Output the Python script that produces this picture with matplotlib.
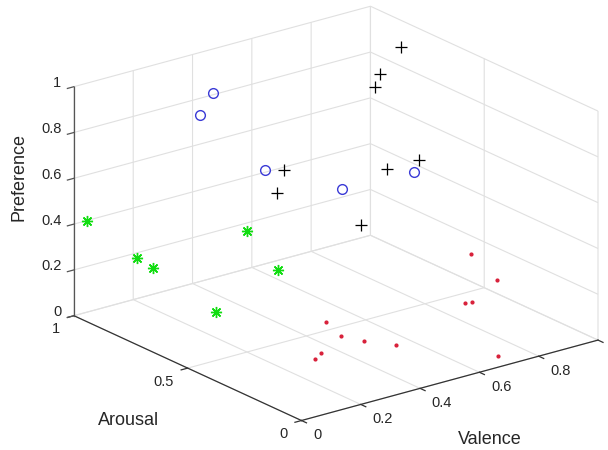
import numpy as np
import matplotlib
matplotlib.use("Agg")
import matplotlib.pyplot as plt
from mpl_toolkits.mplot3d import proj3d

# points (valence, arousal, preference)
red_val = [0.504, 0.475, 0.497, 0.547, 0.352, 0.315, 0.988, 0.957, 0.888, 0.908, 0.713]
red_aro = [0.549, 0.445, 0.375, 0.297, 0.373, 0.350, 0.543, 0.389, 0.439, 0.434, 0.066]
red_pref = [0, 0, 0, 0, 0, 0, 0.13, 0.10, 0, 0, 0]

plus_val = [0.981, 0.866, 0.849, 0.812, 0.921, 0.712, 0.484, 0.466]
plus_aro = [0.840, 0.784, 0.785, 0.684, 0.684, 0.666, 0.707, 0.716]
plus_pref = [0.90, 0.85, 0.80, 0.50, 0.50, 0.30, 0.60, 0.50]

circ_val = [0.371, 0.350, 0.443, 0.624, 0.752]
circ_aro = [0.872, 0.902, 0.737, 0.636, 0.485]
circ_pref = [0.90, 0.80, 0.60, 0.50, 0.60]

star_val = [0.041, 0.133, 0.175, 0.334, 0.328, 0.215]
star_aro = [0.996, 0.898, 0.880, 0.674, 0.532, 0.656]
star_pref = [0.40, 0.25, 0.20, 0.40, 0.30, 0.10]

x_ticks = [0, 0.2, 0.4, 0.6, 0.8, 1.0]
x_labels = ['0', '0.2', '0.4', '0.6', '0.8', '']
y_ticks = [0, 0.5, 1]
y_labels = ['0', '0.5', '1']
z_ticks = [0, 0.2, 0.4, 0.6, 0.8, 1]
z_labels = ['0', '0.2', '0.4', '0.6', '0.8', '1']

W, H = 608, 450
plt.rcParams['font.family'] = ['Liberation Sans', 'DejaVu Sans']
plt.rcParams['grid.color'] = '#e0e0e0'
plt.rcParams['grid.linewidth'] = 0.8

fig = plt.figure(figsize=(W / 100, H / 100), dpi=100)
ax = fig.add_axes([0, 0, 1, 1], projection='3d', proj_type='ortho')
ax.view_init(elev=20.7, azim=-127.5)
ax.set_box_aspect((1, 1, 0.655))
ax.set_xlim(0, 1)
ax.set_ylim(0, 1)
ax.set_zlim(0, 1)
ax.set_xticks(x_ticks)
ax.set_yticks(y_ticks)
ax.set_zticks(z_ticks)
ax.set_xticklabels([])
ax.set_yticklabels([])
ax.set_zticklabels([])
for a in (ax.xaxis, ax.yaxis, ax.zaxis):
    a.set_pane_color((1, 1, 1, 0))
    a.pane.set_edgecolor((1, 1, 1, 0))
    a.line.set_color((1, 1, 1, 0))
    a._axinfo['axisline']['color'] = (1, 1, 1, 0)
    a._axinfo['tick']['inward_factor'] = 0
    a._axinfo['tick']['outward_factor'] = 0

ax.plot(red_val, red_aro, red_pref, ls='none', marker='.', color='#d8203a', ms=4)
ax.plot(star_val, star_aro, star_pref, ls='none', marker=(8, 2, 0), color='#11dd11', ms=8, mew=1)
ax.plot(plus_val, plus_aro, plus_pref, ls='none', marker='+', color='k', ms=9, mew=0.9)
ax.plot(circ_val, circ_aro, circ_pref, ls='none', marker='o', mfc='none', mec='#3a3ad6', ms=7, mew=1)

# axis lines and outward ticks
ax.plot([0, 1], [0, 0], [0, 0], color='#333333', lw=0.9)
ax.plot([0, 0], [0, 1], [0, 0], color='#333333', lw=0.9)
ax.plot([0, 0], [1, 1], [0, 1], color='#555555', lw=0.9)
tl = 0.022
for t in x_ticks:
    ax.plot([t, t], [0, -tl], [0, 0], color='#333333', lw=0.9)
for t in y_ticks:
    ax.plot([0, -tl], [t, t], [0, 0], color='#333333', lw=0.9)
for t in z_ticks:
    ax.plot([0, -tl], [1, 1], [t, t], color='#555555', lw=0.9)


def to_px(x, y, z):
    xs, ys, _ = proj3d.proj_transform(np.atleast_1d(float(x)), np.atleast_1d(float(y)),
                                      np.atleast_1d(float(z)), ax.get_proj())
    return ax.transData.transform(np.column_stack([xs, ys]))[0]


# fit the box to the reference frame
corner_pts = [(0, 1, 0), (1, 0, 0), (0, 0, 0), (0, 1, 1)]
corner_tgt = np.array([(74, H - 314.3), (597.3, H - 341.7), (302, H - 421), (74, H - 86)])
S, cx, cy = 450.0, W / 2, H / 2
for _ in range(3):
    ax.set_position([(cx - S / 2) / W, (cy - S / 2) / H, S / W, S / H])
    fig.canvas.draw()
    cur = np.array([to_px(*p) for p in corner_pts])
    cc = cur - cur.mean(0)
    tc = corner_tgt - corner_tgt.mean(0)
    s = (cc * tc).sum() / (cc * cc).sum()
    newc = corner_tgt.mean(0) - s * (cur.mean(0) - np.array([cx, cy]))
    S, cx, cy = S * s, newc[0], newc[1]
ax.set_position([(cx - S / 2) / W, (cy - S / 2) / H, S / W, S / H])
fig.canvas.draw()

tc_col = '#262626'
for t, lab in zip(x_ticks, x_labels):
    p = to_px(t, 0, 0)
    fig.text((p[0] + 11.5) / W, (p[1] - 14.5) / H, lab, ha='left', va='center',
             fontsize=10.5, color=tc_col)
for t, lab in zip(y_ticks, y_labels):
    p = to_px(0, t, 0)
    fig.text((p[0] - 13.5) / W, (p[1] - 13.5) / H, lab, ha='right', va='center',
             fontsize=10.5, color=tc_col)
for t, lab in zip(z_ticks, z_labels):
    p = to_px(0, 1, t)
    fig.text((p[0] - 12.5) / W, (p[1] + 3.5) / H, lab, ha='right', va='center',
             fontsize=10.5, color=tc_col)

fig.text(19 / W, 1 - 177.5 / H, 'Preference', rotation=90, ha='center', va='center',
         fontsize=13, color=tc_col)
fig.text(129 / W, 1 - 420.7 / H, 'Arousal', ha='center', va='center', fontsize=13, color=tc_col)
fig.text(489.7 / W, 1 - 439 / H, 'Valence', ha='center', va='center', fontsize=13, color=tc_col)

fig.savefig('out.png', dpi=100)
